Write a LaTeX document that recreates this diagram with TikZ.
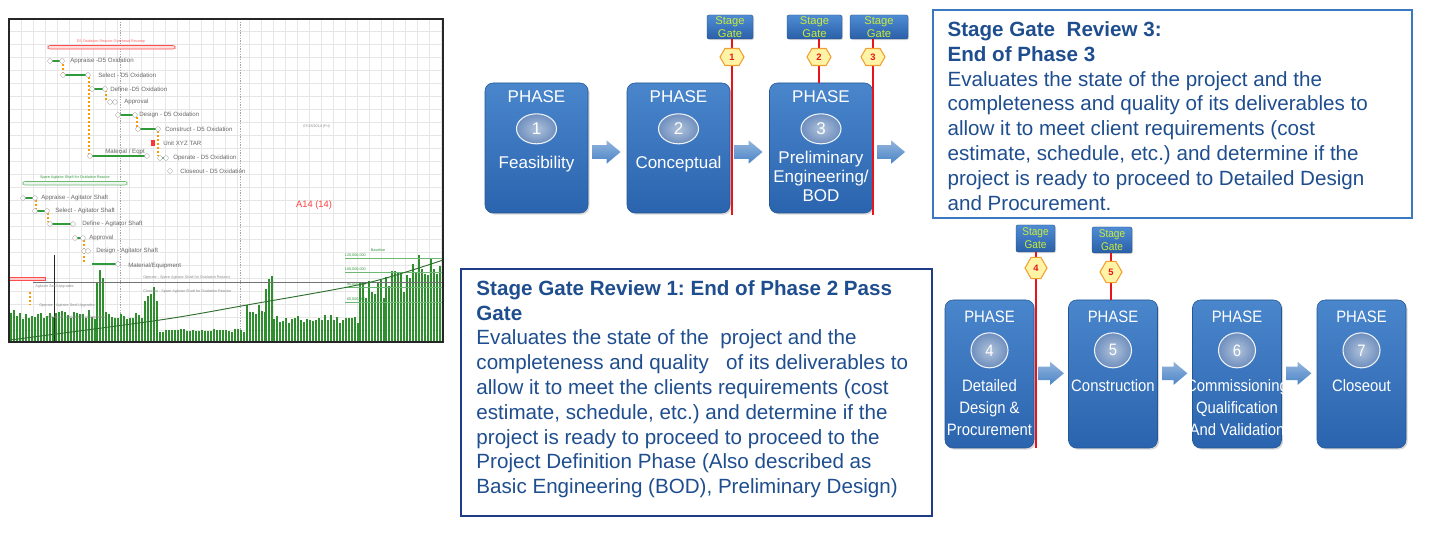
\documentclass[tikz,border=0pt]{standalone}
\usepackage{fontspec}
\setmainfont{Liberation Sans}
\newfontfamily\narrowfont[FakeStretch=0.9]{Liberation Sans}
\usetikzlibrary{positioning,calc,shapes.geometric,shapes.arrows,shapes.symbols,shadows}

\definecolor{phasetop}{HTML}{4A86CC}
\definecolor{phasebot}{HTML}{2A64AE}
\definecolor{numlight}{HTML}{AFC2DA}
\definecolor{numdark}{HTML}{6E8EBE}
\definecolor{gatetop}{HTML}{4F8CD4}
\definecolor{gatebot}{HTML}{2A60A8}
\definecolor{gatetext}{HTML}{C8EC3C}
\definecolor{hexfill}{HTML}{FFF3A6}
\definecolor{hexedge}{HTML}{F0A030}
\definecolor{gatered}{HTML}{E8141C}
\definecolor{arrowblue}{HTML}{4A84C6}
\definecolor{revtext}{HTML}{1F4E8F}
\definecolor{revedge}{HTML}{3A78C0}
\definecolor{revdark}{HTML}{1F3C88}
\definecolor{gridgray}{HTML}{E6E6E6}
\definecolor{taskgreen}{HTML}{2E9A3A}
\definecolor{histgreen}{HTML}{2F8F2F}
\definecolor{curvegreen}{HTML}{2F6F2F}

\frenchspacing
\begin{document}
\begin{tikzpicture}[
    x=0.75pt, y=-0.75pt,
    phasebox/.style={rectangle, rounded corners=6pt, top color=phasetop, bottom color=phasebot,
        draw=phasebot!85!black, line width=0.4pt, inner sep=0pt,
        drop shadow={opacity=0.3, shadow xshift=1.2pt, shadow yshift=-1.2pt}},
    toprow/.style={minimum width=77.25pt, minimum height=97.5pt},
    lowrow/.style={minimum width=66.75pt, minimum height=111pt},
    phasetext/.style={inner sep=0pt, text=white, align=center, font=\fontsize{12.75}{14.25}\selectfont},
    lowtext/.style={inner sep=0pt, text=white, align=center, font=\narrowfont\fontsize{12.4}{16.5}\selectfont},
    phasenum/.style={ellipse, inner sep=0pt, inner color=numlight, outer color=numdark,
        draw=white!80!numlight, line width=0.8pt, text=white},
    gatetag/.style={rectangle, rounded corners=1.5pt, top color=gatetop, bottom color=gatebot,
        draw=gatebot!80!black, line width=0.3pt, inner sep=0pt, text=gatetext, align=center,
        drop shadow={opacity=0.3, shadow xshift=0.8pt, shadow yshift=-0.8pt}},
    gatehex/.style={signal, signal to=east and west, signal pointer angle=120, inner sep=0pt,
        fill=hexfill, draw=hexedge, line width=0.8pt, text=gatered, font=\bfseries\fontsize{7}{7}\selectfont},
    gateline/.style={draw=gatered, line width=1.6pt},
    flowarrow/.style={single arrow, single arrow head extend=3.6pt, single arrow tip angle=80,
        inner xsep=0pt, inner ysep=4.9pt, top color=arrowblue!60!white, bottom color=arrowblue, draw=none},
    reviewbox/.style={rectangle, inner sep=0pt, fill=white},
    reviewtext/.style={inner sep=0pt, align=left, text=revtext, font=\fontsize{15.45}{18.6}\selectfont},
    tasklabel/.style={inner sep=0pt, anchor=west, text=black!60, font=\fontsize{4.6}{5}\selectfont},
    tinylabel/.style={inner sep=0pt, text=black!45, font=\fontsize{2.8}{3}\selectfont},
    taskbar/.style={draw=taskgreen, line width=1.6pt},
    milestone/.style={draw=black!35, fill=white, line width=0.3pt},
    linkline/.style={draw=orange!80!yellow, line width=0.9pt, dash pattern=on 1.5pt off 1.5pt}
]
\useasboundingbox[fill=white] (0,0) rectangle (1443,541);

% schedule screenshot
\foreach \gx in {21,33,...,441}
    \draw[gridgray, line width=0.3pt] (\gx,19) -- (\gx,342);
\foreach \gy in {31,44,...,340}
    \draw[gridgray, line width=0.3pt] (9,\gy) -- (443,\gy);
\draw[black!35, dash pattern=on 1pt off 1pt] (120,19) -- (120,342);
\draw[black!35, dash pattern=on 1pt off 1pt] (240,19) -- (240,342);

\pgfmathsetseed{11}
\foreach \sa/\sb/\sh in {10/95/28, 96/104/72, 105/143/28, 144/158/50, 159/245/12, 246/264/34,
        265/272/62, 273/358/24, 359/384/55, 385/405/62, 406/440/78} {
    \pgfmathtruncatemacro\sc{\sa+3}
    \foreach \bx in {\sa,\sc,...,\sb} {
        \pgfmathsetmacro\bh{\sh*(0.8+0.35*rnd)}
        \fill[histgreen] (\bx,342) rectangle ++(2.1,-\bh);
    }
}
\foreach \ay/\at in {258/{120,000,000}, 272/{100,000,000}, 287/{80,000,000}, 302/{60,000,000}} {
    \draw[taskgreen!70, line width=0.3pt] (345,\ay) -- (443,\ay);
    \node[tinylabel, text=taskgreen, anchor=east] at (366,\ay-3) {\at};
}
\node[tinylabel, text=taskgreen] at (378,250) {Baseline};
\draw[black!55, line width=0.5pt] (33,282) -- (443,282);
\draw[black!85, line width=0.6pt] (54,255) -- (54,342);
\draw[curvegreen, line width=0.7pt] plot[smooth] coordinates {(10,340) (160,320) (247,305) (367,283) (443,260)};

\draw[draw=red!70, fill=red!12, rounded corners=1.5pt, line width=0.4pt] (48,45.5) rectangle (175,49);
\node[tinylabel, text=red!60] at (111,42) {D5 Oxidation Reactor Overhead Revamp};
\draw[draw=taskgreen!70, fill=taskgreen!8, rounded corners=1.5pt, line width=0.4pt] (23,181.5) rectangle (127,185);
\node[tinylabel, text=taskgreen] at (75,178) {Spare Agitator Shaft for Oxidation Reactor};

\draw[linkline] (89,77) -- (89,155);
\draw[linkline] (63,64) -- (63,73);
\draw[linkline] (106,90) -- (106,100);
\draw[linkline] (137,117) -- (137,127);
\draw[linkline] (158,131) -- (158,156);
\draw[linkline] (36,200) -- (36,209);
\draw[linkline] (48,213) -- (48,222);
\draw[linkline] (84,240) -- (84,262);
\draw[linkline] (30,292) -- (30,305);

\foreach \xa/\xb/\yy/\lx/\txt in {50/62/61/70/{Appraise -D5 Oxidation}, 63/88/75/98/{Select - D5 Oxidation},
        92/105/89/110/{Define -D5 Oxidation}, 110/115/102/124/{Approval},
        118/135/115/139/{Design - D5 Oxidation}, 138/158/129/165/{Construct - D5 Oxidation},
        160/166/158/173/{Operate - D5 Oxidation}, 23/35/198/41/{Appraise - Agitator Shaft},
        35/47/211/55/{Select - Agitator Shaft}, 50/73/224/82/{Define - Agitator Shaft},
        75/83/238/89/{Approval}, 84/88/251/96/{Design - Agitator Shaft}} {
    \draw[taskbar] (\xa,\yy) -- (\xb,\yy);
    \draw[milestone] (\xa,\yy) circle (1.8pt);
    \draw[milestone] (\xb,\yy) circle (1.8pt);
    \node[tasklabel] at (\lx,\yy) {\txt};
}
\draw[taskbar] (90,156) -- (147,156);
\draw[milestone] (90,156) circle (1.8pt);
\draw[milestone] (147,156) circle (1.8pt);
\node[tasklabel] at (105,152) {Material / Eqpt};
\fill[red!80] (151,140) rectangle (155,146);
\node[tasklabel] at (163,143) {Unit XYZ TAR};
\draw[milestone] (170,171) circle (1.8pt);
\node[tasklabel] at (180,171) {Closeout - D5 Oxidation};
\draw[taskbar] (92,264) -- (118,264);
\draw[milestone] (118,264) circle (1.8pt);
\node[tasklabel] at (128,266) {Material/Equipment};
\node[tinylabel, anchor=west] at (143,278) {Operate - Spare Agitator Shaft for Oxidation Reactor};
\node[tinylabel, anchor=west] at (143,292) {Closeout - Spare Agitator Shaft for Oxidation Reactor};
\draw[draw=red!70, fill=red!20, line width=0.4pt] (9,277) rectangle (45,280);
\node[tinylabel, anchor=west] at (35,287) {Agitator Seal Upgrades};
\node[tinylabel, anchor=west] at (39,306) {Operate - Agitator Seal Upgrades};
\node[tinylabel, anchor=west] at (48,318) {Closeout - Agitator Seal Upgrades};
\node[tinylabel, anchor=west] at (303,127) {07/18/2014 (Fri)};
\node[inner sep=0pt, text=red!75, font=\fontsize{7}{7}\selectfont] at (314,205) {A14 (14)};
\draw[black!85, line width=1.2pt] (9,19) rectangle (443,342);

% phases, top row
\node[phasebox, toprow] (p1) at (536.5,148) {};
\node[phasebox, toprow] (p2) at (678.5,148) {};
\node[phasebox, toprow] (p3) at (821,148) {};
\node[phasetext, below=6pt of p1.north] (t1) {PHASE};
\node[phasetext, below=6pt of p2.north] (t2) {PHASE};
\node[phasetext, below=6pt of p3.north] (t3) {PHASE};
\node[phasenum, phasetext, minimum width=30pt, minimum height=22.5pt, below=7.5pt of t1] (n1) {1};
\node[phasenum, phasetext, minimum width=30pt, minimum height=22.5pt, below=7.5pt of t2] (n2) {2};
\node[phasenum, phasetext, minimum width=30pt, minimum height=22.5pt, below=7.5pt of t3] (n3) {3};
\node[phasetext, below=9pt of n1] (l1) {Feasibility};
\node[phasetext, below=9pt of n2] (l2) {Conceptual};
\node[phasetext, below=5pt of n3] (l3) {Preliminary\\Engineering/\\BOD};

% phases, bottom row
\node[phasebox, lowrow] (p4) at (989.5,374) {};
\node[phasebox, lowrow] (p5) at (1113,374) {};
\node[phasebox, lowrow] (p6) at (1237,374) {};
\node[phasebox, lowrow] (p7) at (1361.5,374) {};
\node[lowtext, below=8.25pt of p4.north] (t4) {PHASE};
\node[lowtext, below=8.25pt of p5.north] (t5) {PHASE};
\node[lowtext, below=8.25pt of p6.north] (t6) {PHASE};
\node[lowtext, below=8.25pt of p7.north] (t7) {PHASE};
\node[phasenum, lowtext, minimum width=27.75pt, minimum height=26.25pt, below=7pt of t4] (n4) {4};
\node[phasenum, lowtext, minimum width=27.75pt, minimum height=26.25pt, below=7pt of t5] (n5) {5};
\node[phasenum, lowtext, minimum width=27.75pt, minimum height=26.25pt, below=7pt of t6] (n6) {6};
\node[phasenum, lowtext, minimum width=27.75pt, minimum height=26.25pt, below=7pt of t7] (n7) {7};
\node[lowtext, below=8pt of n4] (l4) {Detailed\\Design \&\\Procurement};
\node[lowtext, below=8pt of n5] (l5) {Construction};
\node[lowtext, below=8pt of n6] (l6) {Commissioning\\Qualification\\And Validation};
\node[lowtext, below=8pt of n7] (l7) {Closeout};

% flow arrows
\node[flowarrow, minimum height=21pt, right=3pt of p1, yshift=-3pt] (a12) {};
\node[flowarrow, minimum height=21pt, right=3pt of p2, yshift=-3pt] (a23) {};
\node[flowarrow, minimum height=21pt, right=3pt of p3, yshift=-3pt] (a34) {};
\node[flowarrow, minimum height=19pt, right=3pt of p4, yshift=0.5pt] (a45) {};
\node[flowarrow, minimum height=19pt, right=3pt of p5, yshift=0.5pt] (a56) {};
\node[flowarrow, minimum height=19pt, right=3pt of p6, yshift=0.5pt] (a67) {};

% stage gates
\node[gatetag, font=\fontsize{8.4}{9.6}\selectfont, minimum width=34.5pt, minimum height=18pt] (g1) at (730,27) {Stage\\Gate};
\node[gatetag, font=\fontsize{8.4}{9.6}\selectfont, minimum width=41.25pt, minimum height=18pt] (g2) at (814.5,27) {Stage\\Gate};
\node[gatetag, font=\fontsize{8.4}{9.6}\selectfont, minimum width=43.5pt, minimum height=18pt] (g3) at (879,27) {Stage\\Gate};
\node[gatetag, font=\narrowfont\fontsize{8.4}{9.6}\selectfont, minimum width=29.25pt, minimum height=20.25pt] (g4) at (1035.5,238.5) {Stage\\Gate};
\node[gatetag, font=\narrowfont\fontsize{8.4}{9.6}\selectfont, minimum width=30pt, minimum height=19.5pt] (g5) at (1112,240) {Stage\\Gate};
\coordinate (e1) at (732,215);
\coordinate (e2) at ($(p3.north)+(-2,0)$);
\coordinate (e3) at (873,215);
\coordinate (e4) at (1036,448);
\coordinate (e5) at ($(p5.north)+(-2,0)$);
\draw[gateline] (g1.south -| e1) -- (e1);
\draw[gateline] (g2.south -| e2) -- (e2);
\draw[gateline] (g3.south -| e3) -- (e3);
\draw[gateline] (g4.south -| e4) -- (e4);
\draw[gateline] (g5.south -| e5) -- (e5);
\node[gatehex, minimum width=18pt, minimum height=12.75pt] (h1) at (732,57) {1};
\node[gatehex, minimum width=18pt, minimum height=12.75pt] (h2) at (819,57) {2};
\node[gatehex, minimum width=18pt, minimum height=12.75pt] (h3) at (873,57) {3};
\node[gatehex, minimum width=16.5pt, minimum height=16pt] (h4) at (1036,268) {4};
\node[gatehex, minimum width=16.5pt, minimum height=16pt] (h5) at (1111,272) {5};

% review boxes
\node[reviewbox, draw=revedge, line width=1pt, minimum width=359.25pt, minimum height=156pt] (r3) at (1172.5,114) {};
\node[reviewtext, anchor=north west, below right=9pt and 11.25pt of r3.north west] (r3t)
    {\textbf{Stage Gate~ Review 3:}\\
     \textbf{End of Phase 3}\\
     Evaluates the state of the project and the\\
     completeness and quality of its deliverables to\\
     allow it to meet client requirements (cost\\
     estimate, schedule, etc.) and determine if the\\
     project is ready to proceed to Detailed Design\\
     and Procurement.};
\node[reviewbox, draw=revdark, line width=1.2pt, minimum width=353.25pt, minimum height=185.25pt] (r1) at (696.5,392.5) {};
\node[reviewtext, anchor=north west, below right=9pt and 12pt of r1.north west] (r1t)
    {\textbf{Stage Gate Review 1: End of Phase 2 Pass}\\
     \textbf{Gate}\\
     Evaluates the state of the~ project and the\\
     completeness and quality~~ of its deliverables to\\
     allow it to meet the clients requirements (cost\\
     estimate, schedule, etc.) and determine if the\\
     project is ready to proceed to proceed to the\\
     Project Definition Phase (Also described as\\
     Basic Engineering (BOD), Preliminary Design)};
\end{tikzpicture}
\end{document}
